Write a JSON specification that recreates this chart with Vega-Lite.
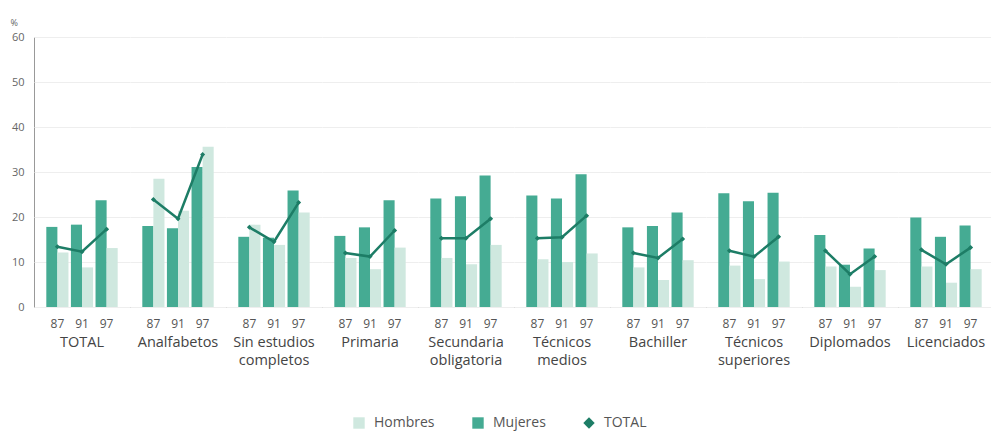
{
  "$schema": "https://vega.github.io/schema/vega-lite/v6.json",
  "padding": {"left": 10, "top": 18, "right": 5, "bottom": 5},
  "background": "white",
  "data": {"values": [
    {"g":"TOTAL","y":"87","s":"Mujeres","v":17.8},{"g":"TOTAL","y":"87","s":"Hombres","v":12.1},{"g":"TOTAL","y":"87","s":"TOTAL","v":13.4},
    {"g":"TOTAL","y":"91","s":"Mujeres","v":18.3},{"g":"TOTAL","y":"91","s":"Hombres","v":8.8},{"g":"TOTAL","y":"91","s":"TOTAL","v":12.3},
    {"g":"TOTAL","y":"97","s":"Mujeres","v":23.7},{"g":"TOTAL","y":"97","s":"Hombres","v":13.1},{"g":"TOTAL","y":"97","s":"TOTAL","v":17.3},
    {"g":"Analfabetos","y":"87","s":"Mujeres","v":18.0},{"g":"Analfabetos","y":"87","s":"Hombres","v":28.5},{"g":"Analfabetos","y":"87","s":"TOTAL","v":23.9},
    {"g":"Analfabetos","y":"91","s":"Mujeres","v":17.5},{"g":"Analfabetos","y":"91","s":"Hombres","v":21.4},{"g":"Analfabetos","y":"91","s":"TOTAL","v":19.6},
    {"g":"Analfabetos","y":"97","s":"Mujeres","v":31.1},{"g":"Analfabetos","y":"97","s":"Hombres","v":35.6},{"g":"Analfabetos","y":"97","s":"TOTAL","v":33.9},
    {"g":"Sin estudios|completos","y":"87","s":"Mujeres","v":15.6},{"g":"Sin estudios|completos","y":"87","s":"Hombres","v":18.3},{"g":"Sin estudios|completos","y":"87","s":"TOTAL","v":17.7},
    {"g":"Sin estudios|completos","y":"91","s":"Mujeres","v":15.4},{"g":"Sin estudios|completos","y":"91","s":"Hombres","v":13.8},{"g":"Sin estudios|completos","y":"91","s":"TOTAL","v":14.5},
    {"g":"Sin estudios|completos","y":"97","s":"Mujeres","v":25.9},{"g":"Sin estudios|completos","y":"97","s":"Hombres","v":21.0},{"g":"Sin estudios|completos","y":"97","s":"TOTAL","v":23.2},
    {"g":"Primaria","y":"87","s":"Mujeres","v":15.8},{"g":"Primaria","y":"87","s":"Hombres","v":10.9},{"g":"Primaria","y":"87","s":"TOTAL","v":12.0},
    {"g":"Primaria","y":"91","s":"Mujeres","v":17.7},{"g":"Primaria","y":"91","s":"Hombres","v":8.4},{"g":"Primaria","y":"91","s":"TOTAL","v":11.2},
    {"g":"Primaria","y":"97","s":"Mujeres","v":23.7},{"g":"Primaria","y":"97","s":"Hombres","v":13.2},{"g":"Primaria","y":"97","s":"TOTAL","v":17.0},
    {"g":"Secundaria|obligatoria","y":"87","s":"Mujeres","v":24.1},{"g":"Secundaria|obligatoria","y":"87","s":"Hombres","v":10.9},{"g":"Secundaria|obligatoria","y":"87","s":"TOTAL","v":15.3},
    {"g":"Secundaria|obligatoria","y":"91","s":"Mujeres","v":24.6},{"g":"Secundaria|obligatoria","y":"91","s":"Hombres","v":9.5},{"g":"Secundaria|obligatoria","y":"91","s":"TOTAL","v":15.3},
    {"g":"Secundaria|obligatoria","y":"97","s":"Mujeres","v":29.2},{"g":"Secundaria|obligatoria","y":"97","s":"Hombres","v":13.8},{"g":"Secundaria|obligatoria","y":"97","s":"TOTAL","v":19.6},
    {"g":"Técnicos|medios","y":"87","s":"Mujeres","v":24.8},{"g":"Técnicos|medios","y":"87","s":"Hombres","v":10.6},{"g":"Técnicos|medios","y":"87","s":"TOTAL","v":15.3},
    {"g":"Técnicos|medios","y":"91","s":"Mujeres","v":24.1},{"g":"Técnicos|medios","y":"91","s":"Hombres","v":10.0},{"g":"Técnicos|medios","y":"91","s":"TOTAL","v":15.5},
    {"g":"Técnicos|medios","y":"97","s":"Mujeres","v":29.5},{"g":"Técnicos|medios","y":"97","s":"Hombres","v":11.9},{"g":"Técnicos|medios","y":"97","s":"TOTAL","v":20.3},
    {"g":"Bachiller","y":"87","s":"Mujeres","v":17.7},{"g":"Bachiller","y":"87","s":"Hombres","v":8.8},{"g":"Bachiller","y":"87","s":"TOTAL","v":12.0},
    {"g":"Bachiller","y":"91","s":"Mujeres","v":18.0},{"g":"Bachiller","y":"91","s":"Hombres","v":6.0},{"g":"Bachiller","y":"91","s":"TOTAL","v":10.9},
    {"g":"Bachiller","y":"97","s":"Mujeres","v":21.0},{"g":"Bachiller","y":"97","s":"Hombres","v":10.4},{"g":"Bachiller","y":"97","s":"TOTAL","v":15.1},
    {"g":"Técnicos|superiores","y":"87","s":"Mujeres","v":25.3},{"g":"Técnicos|superiores","y":"87","s":"Hombres","v":9.2},{"g":"Técnicos|superiores","y":"87","s":"TOTAL","v":12.5},
    {"g":"Técnicos|superiores","y":"91","s":"Mujeres","v":23.5},{"g":"Técnicos|superiores","y":"91","s":"Hombres","v":6.2},{"g":"Técnicos|superiores","y":"91","s":"TOTAL","v":11.2},
    {"g":"Técnicos|superiores","y":"97","s":"Mujeres","v":25.4},{"g":"Técnicos|superiores","y":"97","s":"Hombres","v":10.1},{"g":"Técnicos|superiores","y":"97","s":"TOTAL","v":15.6},
    {"g":"Diplomados","y":"87","s":"Mujeres","v":16.0},{"g":"Diplomados","y":"87","s":"Hombres","v":9.0},{"g":"Diplomados","y":"87","s":"TOTAL","v":12.5},
    {"g":"Diplomados","y":"91","s":"Mujeres","v":9.4},{"g":"Diplomados","y":"91","s":"Hombres","v":4.5},{"g":"Diplomados","y":"91","s":"TOTAL","v":7.3},
    {"g":"Diplomados","y":"97","s":"Mujeres","v":13.0},{"g":"Diplomados","y":"97","s":"Hombres","v":8.2},{"g":"Diplomados","y":"97","s":"TOTAL","v":11.2},
    {"g":"Licenciados","y":"87","s":"Mujeres","v":19.9},{"g":"Licenciados","y":"87","s":"Hombres","v":9.0},{"g":"Licenciados","y":"87","s":"TOTAL","v":12.7},
    {"g":"Licenciados","y":"91","s":"Mujeres","v":15.6},{"g":"Licenciados","y":"91","s":"Hombres","v":5.4},{"g":"Licenciados","y":"91","s":"TOTAL","v":9.5},
    {"g":"Licenciados","y":"97","s":"Mujeres","v":18.1},{"g":"Licenciados","y":"97","s":"Hombres","v":8.4},{"g":"Licenciados","y":"97","s":"TOTAL","v":13.2}
  ]},
  "facet": {
    "column": {
      "field": "g",
      "type": "nominal",
      "sort": ["TOTAL","Analfabetos","Sin estudios|completos","Primaria","Secundaria|obligatoria","Técnicos|medios","Bachiller","Técnicos|superiores","Diplomados","Licenciados"],
      "title": null,
      "header": {
        "labelOrient": "bottom",
        "labelExpr": "split(datum.value, '|')",
        "labelFont": "Open Sans",
        "labelFontSize": 14.5,
        "labelColor": "#444",
        "labelLineHeight": 18,
        "labelPadding": 7,
        "labelBaseline": "top"
      }
    }
  },
  "spacing": 0,
  "spec": {
    "width": 96,
    "height": 270,
    "layer": [
      {
        "mark": {"type": "bar"},
        "transform": [{"filter": "datum.s !== 'TOTAL'"}],
        "encoding": {
          "x": {"field": "y", "type": "nominal", "title": null,
                "scale": {"paddingInner": 0.1, "paddingOuter": 0.5},
                "axis": {"labelAngle": 0, "ticks": false, "domainColor": "#999", "labelColor": "#555", "labelFont": "Open Sans", "labelFontSize": 12, "labelPadding": 11}},
          "xOffset": {"field": "s", "type": "nominal", "scale": {"domain": ["Mujeres","Hombres"]}},
          "y": {"field": "v", "type": "quantitative", "title": "%",
                "scale": {"domain": [0, 60]},
                "axis": {"values": [0,10,20,30,40,50,60], "ticks": false, "domainColor": "#999", "gridColor": "#eeeeee", "labelColor": "#666", "labelFont": "Open Sans", "labelFontSize": 11, "labelPadding": 10, "titleAngle": 0, "titleAlign": "left", "titleBaseline": "bottom", "titleX": -24, "titleY": -10, "titleFont": "Open Sans", "titleFontSize": 9, "titleFontWeight": "normal", "titleColor": "#666"}},
          "color": {"field": "s", "type": "nominal", "title": null,
                    "scale": {"domain": ["Hombres","Mujeres","TOTAL"], "range": ["#cfe8df","#45ab93","#1d7d66"]},
                    "legend": {"orient": "none", "legendX": 318, "legendY": 379, "direction": "horizontal", "symbolSize": 130, "labelFont": "Open Sans", "labelFontSize": 14, "labelColor": "#555", "columnPadding": 36, "labelOffset": 8, "symbolStrokeWidth": 0}}
        }
      },
      {
        "mark": {"type": "line", "color": "#1d7d66", "strokeWidth": 2.5},
        "transform": [{"filter": "datum.s === 'TOTAL'"}],
        "encoding": {
          "x": {"field": "y", "type": "nominal"},
          "y": {"field": "v", "type": "quantitative"}
        }
      },
      {
        "mark": {"type": "point", "filled": true, "size": 25, "opacity": 1},
        "transform": [{"filter": "datum.s === 'TOTAL'"}],
        "encoding": {
          "x": {"field": "y", "type": "nominal"},
          "y": {"field": "v", "type": "quantitative"},
          "color": {"field": "s", "type": "nominal"},
          "shape": {"field": "s", "type": "nominal", "title": null,
                    "scale": {"domain": ["Hombres","Mujeres","TOTAL"], "range": ["square","square","diamond"]}}
        }
      }
    ]
  },
  "config": {
    "view": {"stroke": null},
    "font": "Open Sans"
  }
}
